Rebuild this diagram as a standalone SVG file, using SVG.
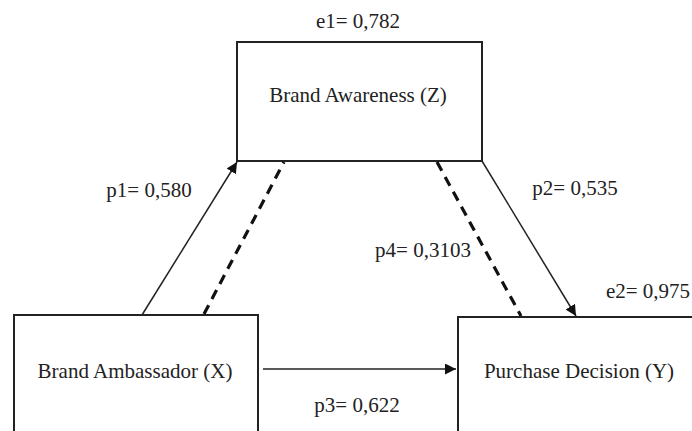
<svg xmlns="http://www.w3.org/2000/svg" width="692" height="431" viewBox="0 0 692 431">
<style>
.box{fill:#fff;stroke:#222;stroke-width:2}
.t{font-family:"Liberation Serif","Times New Roman",serif;font-size:21px;fill:#222}
.c{text-anchor:middle}
.ln{stroke:#222;stroke-width:1.5;fill:none}
.dash{stroke:#111;stroke-width:3.2;fill:none;stroke-dasharray:10 7}
</style>
<defs>
<marker id="ah" viewBox="0 0 10 10" refX="10" refY="5" markerWidth="11" markerHeight="11" markerUnits="userSpaceOnUse" orient="auto">
<path d="M0,0 L10,5 L0,10 z" fill="#111"/>
</marker>
</defs>
<rect width="692" height="431" fill="#fff"/>
<g id="nodeZ">
<rect class="box" x="237" y="42" width="245" height="119"/>
<text class="t c" x="358" y="102">Brand Awareness (Z)</text>
</g>
<g id="nodeX">
<rect class="box" x="14" y="315" width="244" height="130"/>
<text class="t c" x="135" y="378">Brand Ambassador (X)</text>
</g>
<g id="nodeY">
<rect class="box" x="458" y="317" width="250" height="130"/>
<text class="t c" x="579" y="378">Purchase Decision (Y)</text>
</g>
<g id="connectors">
<line class="ln" x1="142" y1="315" x2="237" y2="162" marker-end="url(#ah)"/>
<line class="ln" x1="482" y1="161" x2="576" y2="316" marker-end="url(#ah)"/>
<line class="ln" x1="263" y1="369" x2="456" y2="369" marker-end="url(#ah)"/>
<line class="dash" x1="204" y1="314" x2="284" y2="162"/>
<line class="dash" x1="437" y1="162" x2="521" y2="316"/>
</g>
<g id="labels">
<text class="t c" x="358" y="28">e1= 0,782</text>
<text class="t c" x="149" y="197">p1= 0,580</text>
<text class="t c" x="575" y="195">p2= 0,535</text>
<text class="t c" x="423" y="257">p4= 0,3103</text>
<text class="t c" x="648" y="298">e2= 0,975</text>
<text class="t c" x="357" y="412">p3= 0,622</text>
</g>
</svg>
